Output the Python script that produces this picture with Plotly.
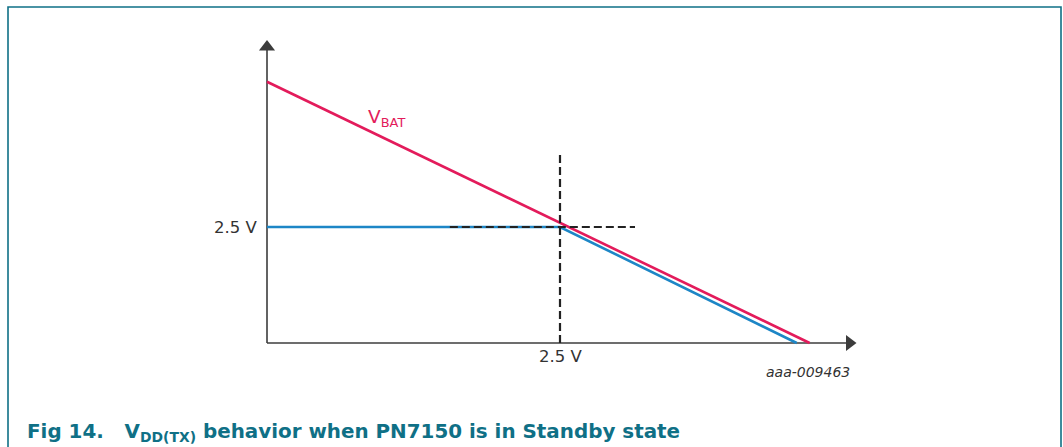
import plotly.graph_objects as go

# ---- data (arbitrary volt units) ----
vbat_x = [0.0, 4.63]
vbat_y = [5.63, 0.0]
vdd_x = [0.0, 2.5, 4.52]
vdd_y = [2.5, 2.5, 0.0]
vdash_x = [2.5, 2.5]
vdash_y = [0.0, 4.07]
hdash_x = [1.56, 3.14]
hdash_y = [2.5, 2.5]
x_axis_end = 4.97
y_axis_end = 6.38
x_tick_vals = [2.5]
x_tick_text = ["2.5 V"]
y_tick_vals = [2.5]
y_tick_text = ["2.5 V"]

RED = "#e31b5b"
BLUE = "#1d86c6"
TEAL = "#0f7086"
AX = "#3c3c3c"
FONT = "DejaVu Sans, Liberation Sans, Arial"

fig = go.Figure()
# axes drawn as lines ending in arrow-head markers
fig.add_trace(go.Scatter(x=[0, x_axis_end], y=[0, 0], mode="lines+markers",
                         line=dict(color=AX, width=1.6),
                         marker=dict(symbol=["line-ns", "triangle-right"], size=[0, 14], color=AX,
                                     opacity=1, line=dict(width=0)),
                         hoverinfo="skip"))
fig.add_trace(go.Scatter(x=[0, 0], y=[0, y_axis_end], mode="lines+markers",
                         line=dict(color=AX, width=1.6),
                         marker=dict(symbol=["line-ew", "triangle-up"], size=[0, 14], color=AX,
                                     opacity=1, line=dict(width=0)),
                         hoverinfo="skip"))

fig.add_trace(go.Scatter(x=vdd_x, y=vdd_y, mode="lines",
                         line=dict(color=BLUE, width=2.6), hoverinfo="skip"))
fig.add_trace(go.Scatter(x=vbat_x, y=vbat_y, mode="lines",
                         line=dict(color=RED, width=2.6), hoverinfo="skip"))
fig.add_trace(go.Scatter(x=hdash_x, y=hdash_y, mode="lines",
                         line=dict(color="#222222", width=2.2, dash="8px,4px"), hoverinfo="skip"))
fig.add_trace(go.Scatter(x=vdash_x, y=vdash_y, mode="lines",
                         line=dict(color="#222222", width=2.2, dash="8px,4px"), hoverinfo="skip"))

# tick labels
for v, t in zip(x_tick_vals, x_tick_text):
    fig.add_annotation(x=v, y=0, text=t, showarrow=False, xref="x", yref="y",
                       yanchor="top", yshift=-2,
                       font=dict(family=FONT, size=16.5, color="#333333"))
for v, t in zip(y_tick_vals, y_tick_text):
    fig.add_annotation(x=0, y=v, text=t, showarrow=False, xref="x", yref="y",
                       xanchor="right", xshift=-8,
                       font=dict(family=FONT, size=16.5, color="#333333"))

# series label
fig.add_annotation(x=1.02, y=4.85, text="V<sub>BAT</sub>", showarrow=False, xref="x", yref="y",
                   xanchor="center", font=dict(family=FONT, size=18.5, color=RED))

W, H = 1063, 447

# figure id
fig.add_annotation(x=852 / W, y=1 - 372 / H, xref="paper", yref="paper", text="<i>aaa-009463</i>",
                   showarrow=False, xanchor="right", yanchor="middle",
                   font=dict(family=FONT, size=14, color="#333333"))

# caption
fig.add_annotation(x=25 / W, y=1 - 432 / H, xref="paper", yref="paper",
                   text="<b>Fig 14.&nbsp;&nbsp;&nbsp;V<sub>DD(TX)</sub> behavior when PN7150 is in Standby state</b>",
                   showarrow=False, xanchor="left", yanchor="middle",
                   font=dict(family=FONT, size=19.9, color=TEAL))

# frame (open at the bottom)
fig.add_shape(type="path", xref="paper", yref="paper",
              path="M {:.5f},0 L {:.5f},{:.5f} L {:.5f},{:.5f} L {:.5f},0".format(
                  8 / W, 8 / W, 1 - 7 / H, 1061 / W, 1 - 7 / H, 1061 / W),
              line=dict(color=TEAL, width=1.6))

ox, oy = 267, 343
sx, sy = 117.2, 46.4
fig.update_layout(
    width=W, height=H,
    margin=dict(l=0, r=0, t=0, b=0),
    paper_bgcolor="white", plot_bgcolor="white",
    showlegend=False,
    xaxis=dict(range=[-ox / sx, (W - ox) / sx], visible=False, fixedrange=True),
    yaxis=dict(range=[-(H - oy) / sy, oy / sy], visible=False, fixedrange=True),
)

fig.write_html("out.html",
               post_script="document.body.style.margin='0';document.body.style.overflow='hidden';",
               config={"displayModeBar": False})
